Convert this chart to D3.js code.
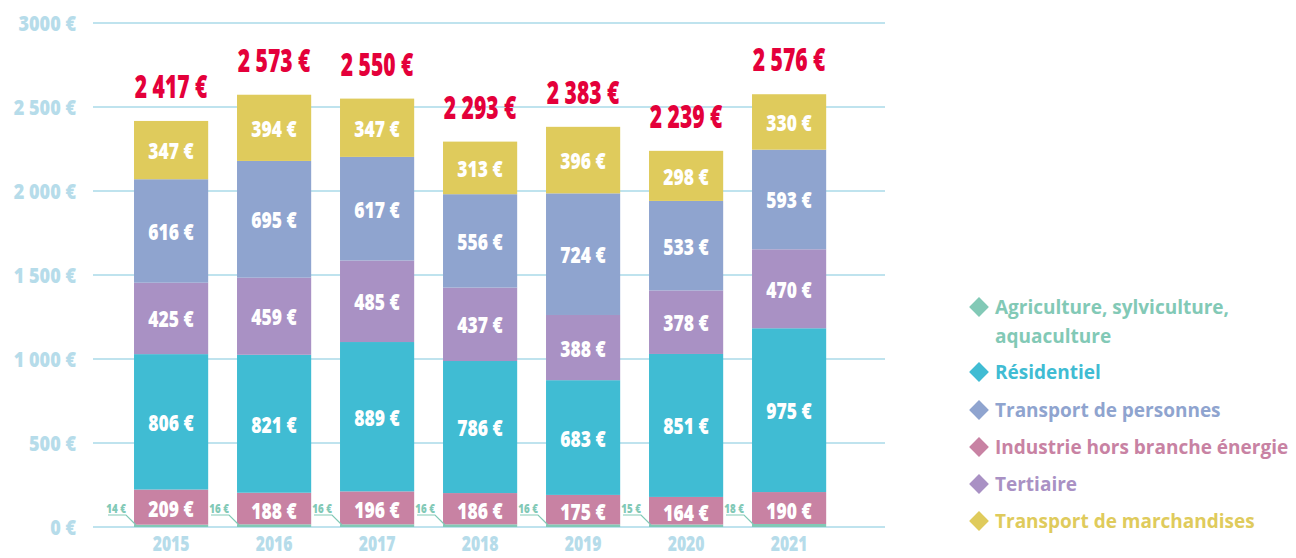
<!DOCTYPE html>
<meta charset="utf-8">
<style>
body { margin: 0; background: #fff; }
.num { font-family: "Open Sans", sans-serif; font-weight: 800; }
.legend text { font-family: "Open Sans", sans-serif; font-weight: bold; font-size: 19px; }
</style>
<svg width="1296" height="558"></svg>
<script src="https://cdn.jsdelivr.net/npm/d3@7"></script>
<script>

var years = ["2015", "2016", "2017", "2018", "2019", "2020", "2021"];
var agriculture = [14, 16, 16, 16, 16, 15, 18];
var industrie = [209, 188, 196, 186, 175, 164, 190];
var residentiel = [806, 821, 889, 786, 683, 851, 975];
var tertiaire = [425, 459, 485, 437, 388, 378, 470];
var transportPers = [616, 695, 617, 556, 724, 533, 593];
var transportMarch = [347, 394, 347, 313, 396, 298, 330];
var totals = ["2 417 €", "2 573 €", "2 550 €", "2 293 €", "2 383 €", "2 239 €", "2 576 €"];
var yTicks = [0, 500, 1000, 1500, 2000, 2500, 3000];
var yTickLabels = ["0 €", "500 €", "1 000 €", "1 500 €", "2 000 €", "2 500 €", "3000 €"];

// stacking order, bottom to top
var series = [
  {key: "agri", name: "Agriculture, sylviculture, aquaculture", values: agriculture, color: "#82c9b6"},
  {key: "indu", name: "Industrie hors branche énergie", values: industrie, color: "#c882a3"},
  {key: "resi", name: "Résidentiel", values: residentiel, color: "#40bcd3"},
  {key: "tert", name: "Tertiaire", values: tertiaire, color: "#a991c4"},
  {key: "pers", name: "Transport de personnes", values: transportPers, color: "#8fa4cf"},
  {key: "march", name: "Transport de marchandises", values: transportMarch, color: "#dfcb5c"}
];
var legendOrder = ["agri", "resi", "pers", "indu", "tert", "march"];

var svg = d3.select("svg");

var rows = years.map(function(y, i) {
  var r = {year: y};
  series.forEach(function(s) { r[s.key] = s.values[i]; });
  return r;
});

var x = d3.scaleBand()
    .domain(years)
    .range([119.6, 840.6])
    .paddingInner(0.28)
    .paddingOuter(0.14);

var y = d3.scaleLinear()
    .domain([0, 3000])
    .range([527, 23]);

var color = d3.scaleOrdinal()
    .domain(series.map(function(s) { return s.key; }))
    .range(series.map(function(s) { return s.color; }));

// condensed look: squeeze text horizontally
function squeeze(sel, fx, fy, sx) {
  sel.attr("x", 0).attr("y", 0)
    .attr("transform", function(d, i) {
      return "translate(" + fx(d, i) + "," + fy(d, i) + ") scale(" + sx + ",1)";
    });
}

// gridlines
svg.append("g")
  .selectAll("line")
  .data(yTicks)
  .enter().append("line")
    .attr("x1", 93)
    .attr("x2", 885)
    .attr("y1", function(d) { return y(d); })
    .attr("y2", function(d) { return y(d); })
    .attr("stroke", "#bfe3ee")
    .attr("stroke-width", 2);

// y labels
svg.append("g")
  .selectAll("text")
  .data(yTicks)
  .enter().append("text")
    .attr("class", "num")
    .attr("text-anchor", "end")
    .attr("fill", "#b6dcea")
    .attr("font-size", 21)
    .text(function(d, i) { return yTickLabels[i]; })
    .call(squeeze, function() { return 76; }, function(d) { return y(d) + 8; }, 0.86);

var stack = d3.stack().keys(series.map(function(s) { return s.key; }));
var stacked = stack(rows);

var layer = svg.append("g")
  .selectAll("g")
  .data(stacked)
  .enter().append("g")
    .attr("fill", function(d) { return color(d.key); });

layer.selectAll("rect")
  .data(function(d) { return d; })
  .enter().append("rect")
    .attr("x", function(d) { return x(d.data.year); })
    .attr("y", function(d) { return y(d[1]); })
    .attr("height", function(d) { return y(d[0]) - y(d[1]); })
    .attr("width", x.bandwidth());

// segment labels (white), skip agriculture
stacked.forEach(function(s) {
  if (s.key === "agri") return;
  svg.append("g")
    .selectAll("text")
    .data(s)
    .enter().append("text")
      .attr("class", "num")
      .attr("text-anchor", "middle")
      .attr("fill", "#fff")
      .attr("font-size", 23)
      .text(function(d) { return d.data[s.key] + " €"; })
      .call(squeeze,
        function(d) { return x(d.data.year) + x.bandwidth() / 2; },
        function(d) {
          var lo = s.key === "indu" ? 0 : d[0];
          return (y(lo) + y(d[1])) / 2 + 9;
        }, 0.76);
});

// agriculture small labels with leader lines
var agri = svg.append("g");
years.forEach(function(yr, i) {
  var bx = x(yr);
  agri.append("text")
    .attr("class", "num")
    .attr("text-anchor", "end")
    .attr("fill", "#82c9b6")
    .attr("font-size", 13)
    .text(agriculture[i] + " €")
    .attr("transform", "translate(" + (bx - 8) + ",513) scale(0.75,1)");
  agri.append("polyline")
    .attr("points", [[bx - 26, 515], [bx - 8, 515], [bx + 2, 525]].join(" "))
    .attr("fill", "none")
    .attr("stroke", "#82c9b6")
    .attr("stroke-width", 1.2);
});

// totals
svg.append("g")
  .selectAll("text")
  .data(rows)
  .enter().append("text")
    .attr("class", "num")
    .attr("text-anchor", "middle")
    .attr("fill", "#e4003a")
    .attr("font-size", 31)
    .text(function(d, i) { return totals[i]; })
    .call(squeeze,
      function(d) { return x(d.year) + x.bandwidth() / 2; },
      function(d) {
        var t = series.reduce(function(a, s) { return a + d[s.key]; }, 0);
        return y(t) - 23;
      }, 0.68);

// years
svg.append("g")
  .selectAll("text")
  .data(years)
  .enter().append("text")
    .attr("class", "num")
    .attr("text-anchor", "middle")
    .attr("fill", "#b6dcea")
    .attr("font-size", 21)
    .text(function(d) { return d; })
    .call(squeeze, function(d) { return x(d) + x.bandwidth() / 2; }, function() { return 551; }, 0.75);

// legend
var legend = svg.append("g").attr("class", "legend");
var legendY = [307, 372, 410, 447, 484, 521];
legendOrder.forEach(function(k, i) {
  var s = series.filter(function(d) { return d.key === k; })[0];
  var g = legend.append("g").attr("transform", "translate(0," + legendY[i] + ")");
  g.append("rect")
    .attr("x", -7).attr("y", -7).attr("width", 14).attr("height", 14)
    .attr("transform", "translate(979,0) rotate(45)")
    .attr("fill", s.color);
  if (k === "agri") {
    g.append("text").attr("x", 995).attr("y", 7).attr("fill", s.color).text("Agriculture, sylviculture,");
    g.append("text").attr("x", 995).attr("y", 36).attr("fill", s.color).text("aquaculture");
  } else {
    g.append("text").attr("x", 995).attr("y", 7).attr("fill", s.color).text(s.name);
  }
});

</script>
